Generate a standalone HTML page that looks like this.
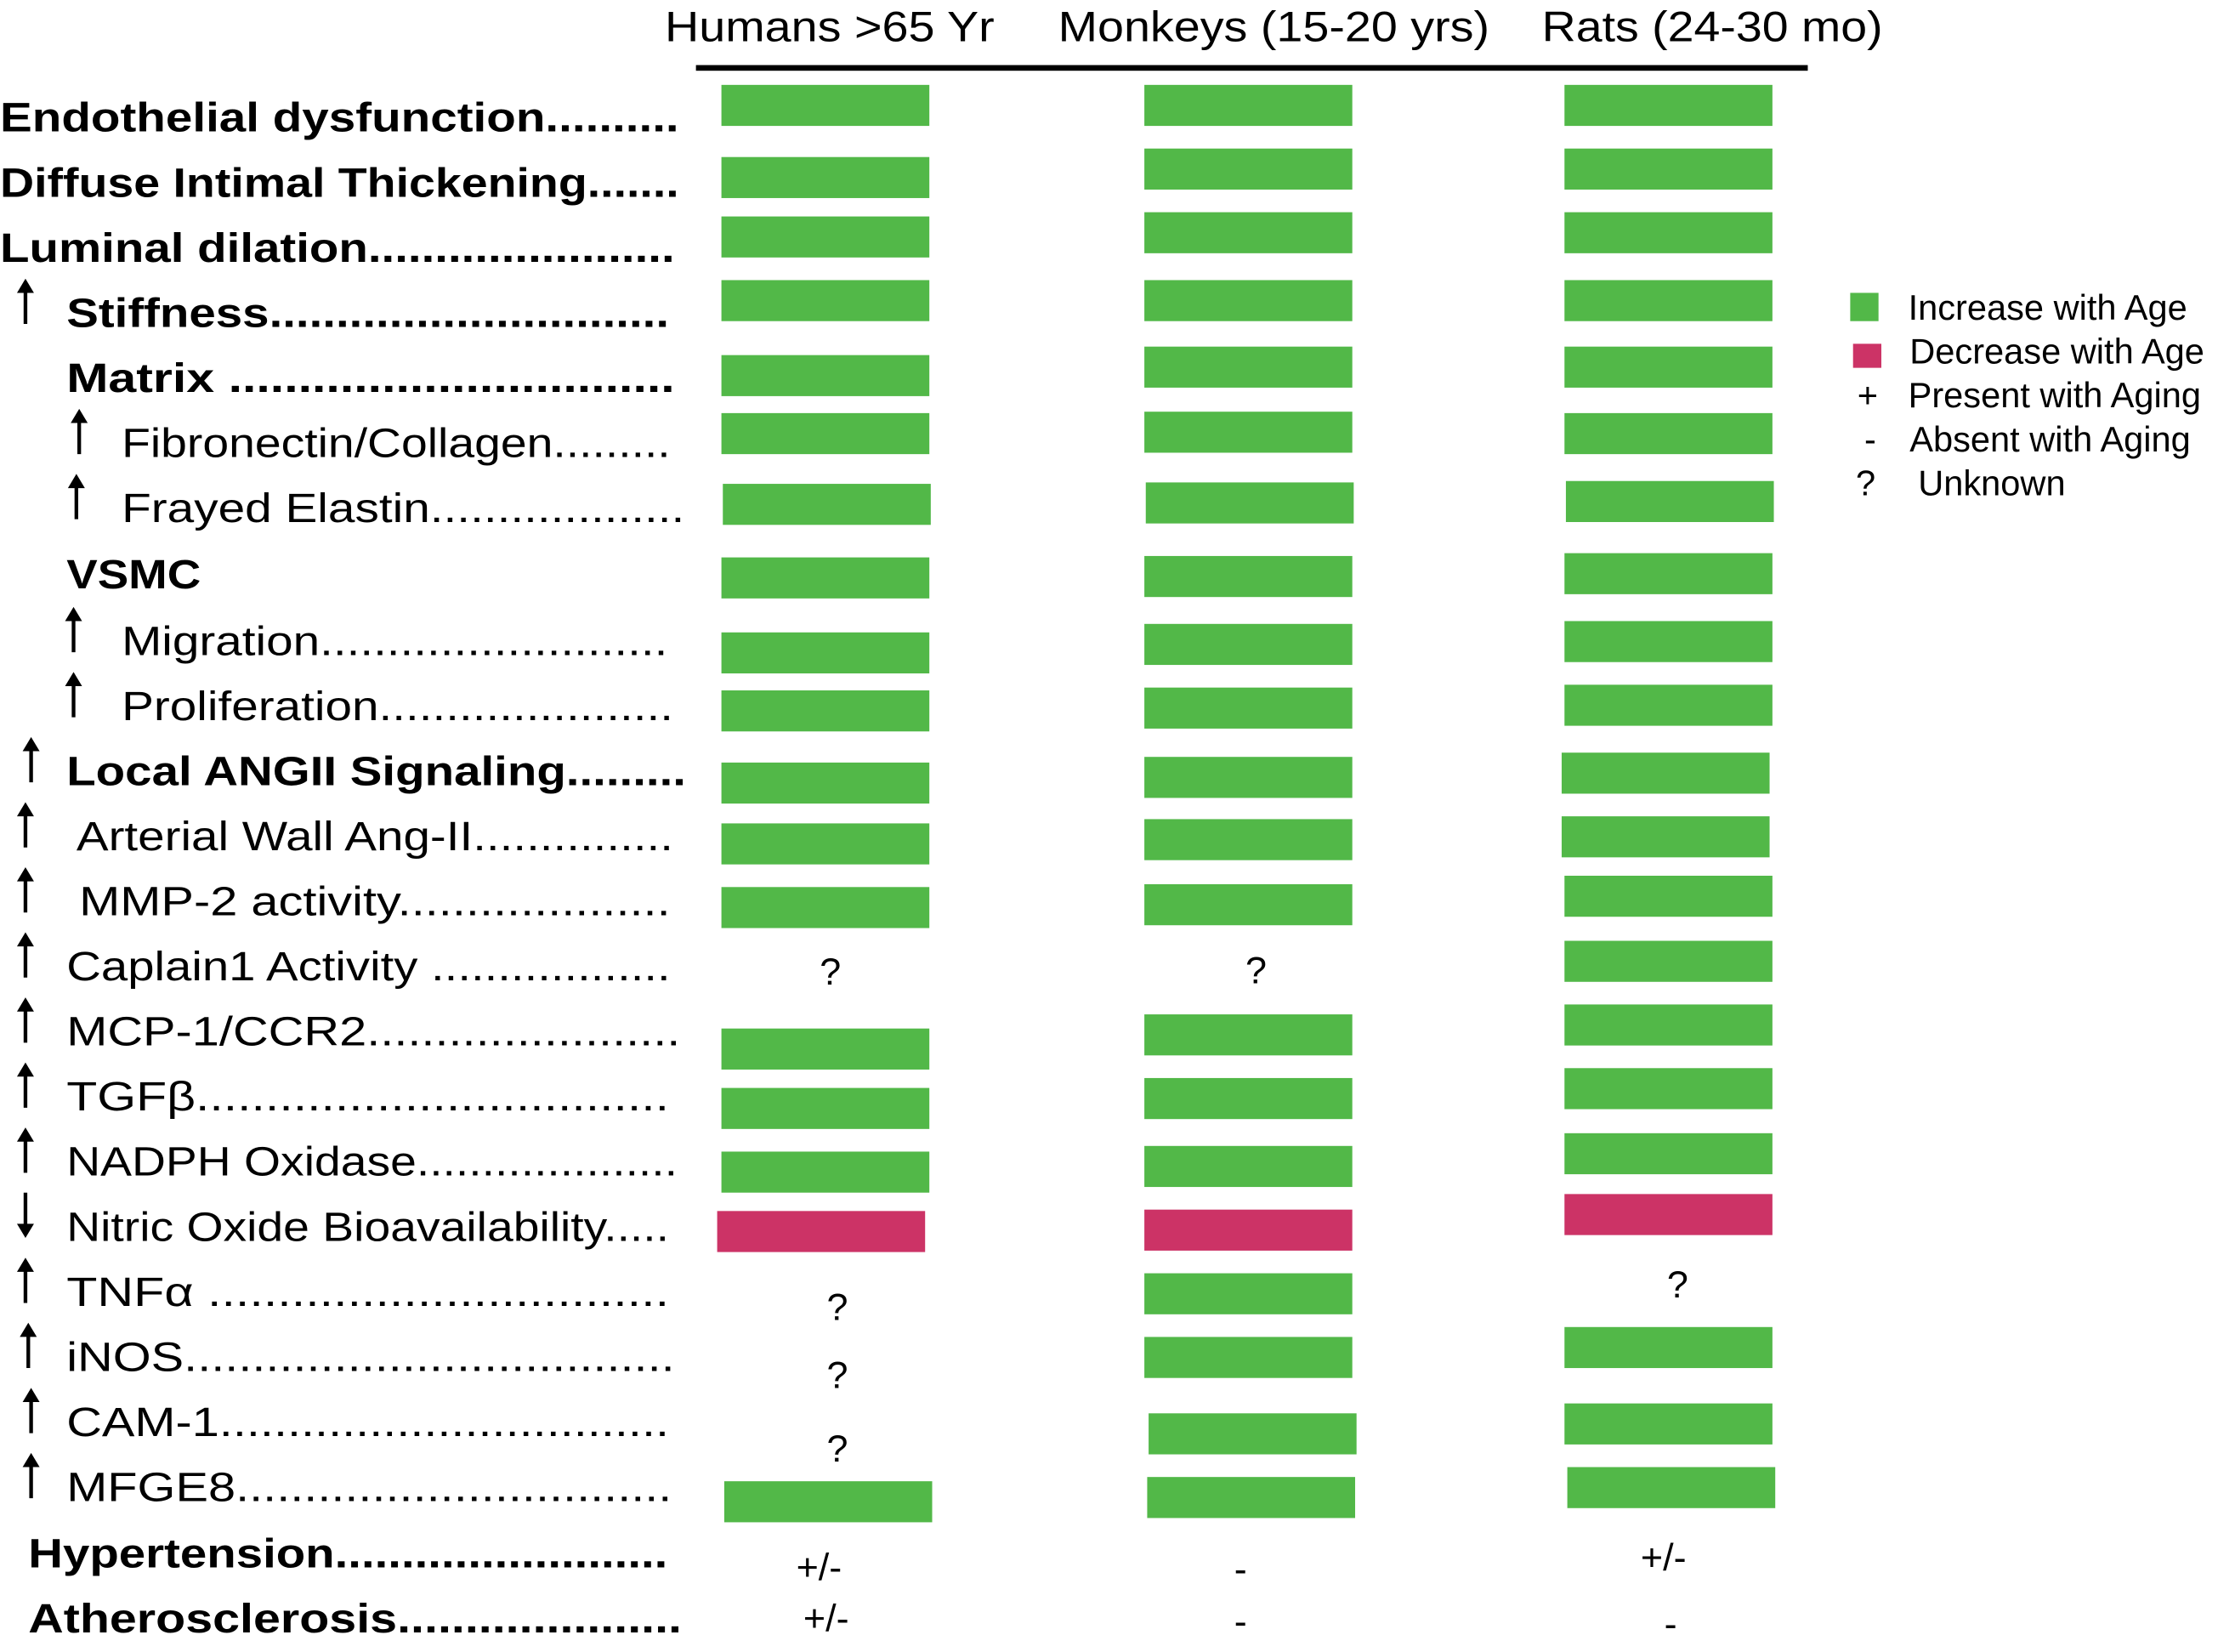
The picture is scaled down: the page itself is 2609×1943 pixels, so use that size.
<!DOCTYPE html>
<html><head><meta charset="utf-8"><style>
html,body{margin:0;padding:0;background:#fff;}
svg{display:block;}
text{font-family:"Liberation Sans",Arial,sans-serif;fill:#000;}
</style></head><body>
<svg id="chart" xmlns="http://www.w3.org/2000/svg" width="2609" height="1943" viewBox="0 0 1568 1167.7" preserveAspectRatio="none">
<g>
<text x="470" y="29" font-size="30" textLength="233" lengthAdjust="spacingAndGlyphs">Humans &gt;65 Yr</text>
<text x="748" y="29" font-size="30" textLength="305" lengthAdjust="spacingAndGlyphs">Monkeys (15-20 yrs)</text>
<text x="1090" y="29" font-size="30" textLength="241" lengthAdjust="spacingAndGlyphs">Rats (24-30 mo)</text>
<rect x="492" y="46" width="786" height="4" fill="#000"/>
</g>
<g id="labels"></g>
<g id="marks"></g>
<g>
<rect x="1308" y="207" width="20" height="20" fill="#52b848"/>
<text x="1349" y="226" font-size="25">Increase with Age</text>
<rect x="1310" y="243" width="20" height="17" fill="#cc3366"/>
<text x="1350" y="257" font-size="25">Decrease with Age</text>
<text x="1313" y="288" font-size="25">+</text>
<text x="1349" y="288" font-size="25">Present with Aging</text>
<text x="1318" y="319" font-size="25">-</text>
<text x="1350" y="319" font-size="25">Absent with Aging</text>
<text x="1312" y="350" font-size="25">?</text>
<text x="1356" y="350" font-size="25">Unknown</text>
</g>
</svg>
<script>
const labels = ["Endothelial dysfunction..........","Diffuse Intimal Thickening.......","Luminal dilation.......................","Stiffness..............................","Matrix ................................","Fibronectin/Collagen.........","Frayed Elastin...................","VSMC","Migration..........................","Proliferation......................","Local ANGII Signaling.........","Arterial Wall Ang-II...............","MMP-2 activity....................","Caplain1 Activity ..................","MCP-1/CCR2.......................","TGF\u03b2..................................","NADPH Oxidase....................","Nitric Oxide Bioavailability.....","TNF\u03b1 .................................","iNOS....................................","CAM-1.................................","MFGE8................................","Hypertension.........................","Atherosclerosis....................."];
const columns = ["Humans","Monkeys","Rats"];
const humans = ["inc","inc","inc","inc","inc","inc","inc","inc","inc","inc","inc","inc","inc","?","inc","inc","inc","dec","?","?","?","inc","+/-","+/-"];
const monkeys = ["inc","inc","inc","inc","inc","inc","inc","inc","inc","inc","inc","inc","inc","?","inc","inc","inc","dec","inc","inc","inc","inc","-","-"];
const rats = ["inc","inc","inc","inc","inc","inc","inc","inc","inc","inc","inc","inc","inc","inc","inc","inc","inc","dec","?","inc","inc","inc","+/-","-"];
const arrows = ["","","","up","","up","up","","up","up","up","up","up","up","up","up","up","down","up","up","up","up","",""];
const bold = [1,1,1,1,1,0,0,1,0,0,1,0,0,0,0,0,0,0,0,0,0,0,1,1];
/* layout (not data) */
const labelX=[0,0,0,47,47,86,86,47,86,86,47,54,56,47,47,47,47,47,47,47,47,47,20,20];
const labelEnd=[480,480,477,473,477,474,484,142,472,476,485,476,474,474,481,473,479,473,473,477,473,475,472,482];
const arrowX=[0,0,0,18,0,56,54,0,52,52,22,18,18,18,18,18,18,18,18,20,22,22,0,0];
const labelY=[93,139,185,231,277,323,369,416,463,509,555,601,647,693,739,785,831,877,923,969,1015,1061,1108,1154];
const colX=[[510,510,510,510,510,510,511,510,510,510,510,510,510,510,510,510,510,507,510,510,510,512,510,510],
 [809,809,809,809,809,809,810,809,809,809,809,809,809,809,809,809,809,809,809,809,812,811,809,809],
 [1106,1106,1106,1106,1106,1106,1107,1106,1106,1106,1104,1104,1106,1106,1106,1106,1106,1106,1106,1106,1106,1108,1106,1106]];
const colTop=[[60,111,153,198,251,292,342,394,447,488,539,582,627,671,727,769,814,856,908,956,1008,1047,1092,1128],
 [60,105,150,198,245,291,341,393,441,486,535,579,625,670,717,762,810,855,900,945,999,1044,1093,1130],
 [60,105,150,198,245,292,340,391,439,484,532,577,619,665,710,755,801,844,892,938,992,1037,1085,1132]];
const qX=[[587,587,587,587,587,587,587,587,587,587,587,587,587,587,587,587,587,587,592,592,592,587,579,584],
 [888,888,888,888,888,888,888,888,888,888,888,888,888,888,888,888,888,888,888,888,888,888,877,877],
 [1186,1186,1186,1186,1186,1186,1186,1186,1186,1186,1186,1186,1186,1186,1186,1186,1186,1186,1186,1186,1186,1186,1176,1181]];
const BW=147,BH=29;
const NS="http://www.w3.org/2000/svg";
const gl=document.getElementById('labels'), gm=document.getElementById('marks');
labels.forEach((t,i)=>{
  const tx=document.createElementNS(NS,'text');
  
  
  tx.setAttribute('x',labelX[i]);tx.setAttribute('y',labelY[i]);
  tx.setAttribute('font-size','29');
  if(bold[i])tx.setAttribute('font-weight','bold');
  tx.setAttribute('textLength',labelEnd[i]-labelX[i]);
  tx.setAttribute('lengthAdjust','spacingAndGlyphs');
  tx.textContent=t;gl.appendChild(tx);
  if(arrows[i]){
    const a=document.createElementNS(NS,'path');
    
    
    const x=arrowX[i],top=labelY[i]-34,bot=labelY[i]-2;
    let d;
    if(arrows[i]=='up') d=`M${x-1.3},${bot}V${top+10}H${x-6}L${x},${top}L${x+6},${top+10}H${x+1.3}V${bot}Z`;
    else d=`M${x-1.3},${top}V${bot-10}H${x-6}L${x},${bot}L${x+6},${bot-10}H${x+1.3}V${top}Z`;
    a.setAttribute('d',d);a.setAttribute('fill','#000');gl.appendChild(a);
  }
});
[humans,monkeys,rats].forEach((vals,c)=>{
  vals.forEach((v,i)=>{
    if(v=='inc'||v=='dec'){
      const r=document.createElementNS(NS,'rect');
      
      
      r.setAttribute('x',colX[c][i]);r.setAttribute('y',colTop[c][i]);
      r.setAttribute('width',BW);r.setAttribute('height',BH);
      r.setAttribute('fill',v=='inc'?'#52b848':'#cc3366');gm.appendChild(r);
    } else {
      const t=document.createElementNS(NS,'text');
      
      
      t.setAttribute('x',qX[c][i]);t.setAttribute('y',colTop[c][i]+25);
      t.setAttribute('font-size','27');t.setAttribute('text-anchor','middle');
      t.textContent=v;gm.appendChild(t);
    }
  });
});
</script>
</body></html>
